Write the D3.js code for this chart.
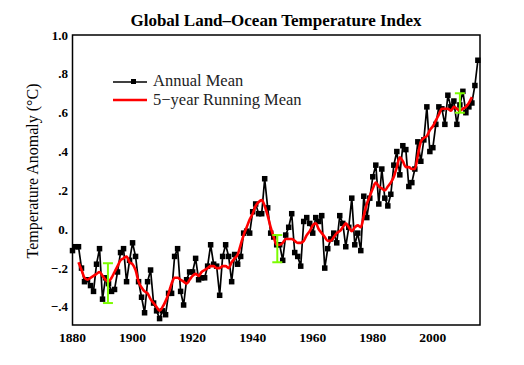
<!DOCTYPE html>
<html>
<head>
<meta charset="utf-8">
<script src="https://cdn.jsdelivr.net/npm/d3@7"></script>
<style>
	body { margin: 0; background: white; }
	text { font-family: "Liberation Serif", "Times New Roman", serif; }
</style>
</head>
<body>
<div id="chart"></div>
<script>
// annual mean, 1880 - 2015
var firstYear = 1880
var annualMean = [
	-0.11, -0.09, -0.09, -0.20, -0.27, -0.26, -0.29, -0.32, -0.18, -0.10,
	-0.36, -0.25, -0.28, -0.32, -0.31, -0.22, -0.12, -0.10, -0.27, -0.16,
	-0.07, -0.14, -0.27, -0.35, -0.43, -0.27, -0.21, -0.38, -0.42, -0.46,
	-0.42, -0.44, -0.33, -0.33, -0.14, -0.10, -0.32, -0.39, -0.26, -0.22,
	-0.22, -0.15, -0.26, -0.25, -0.25, -0.19, -0.08, -0.18, -0.19, -0.34,
	-0.14, -0.08, -0.14, -0.27, -0.13, -0.18, -0.14, -0.02, -0.01, -0.02,
	0.09, 0.13, 0.08, 0.08, 0.26, 0.11, -0.02, -0.04, -0.08, -0.08,
	-0.16, -0.03, 0.01, 0.08, -0.12, -0.14, -0.19, 0.04, 0.06, 0.03,
	-0.02, 0.06, 0.04, 0.07, -0.20, -0.10, -0.05, -0.02, -0.07, 0.07,
	0.03, -0.09, 0.01, 0.16, -0.08, -0.02, -0.11, 0.17, 0.06, 0.16,
	0.27, 0.33, 0.13, 0.31, 0.16, 0.12, 0.18, 0.33, 0.40, 0.28,
	0.43, 0.41, 0.22, 0.24, 0.31, 0.45, 0.35, 0.46, 0.63, 0.40,
	0.42, 0.54, 0.63, 0.62, 0.54, 0.69, 0.63, 0.66, 0.54, 0.64,
	0.71, 0.60, 0.63, 0.65, 0.74, 0.87
]

// 5-year running mean, 1882 - 2013
var runFirstYear = 1882
var runningMean = [
	-0.17, -0.21, -0.25, -0.26, -0.25, -0.24, -0.23, -0.22,
	-0.24, -0.26, -0.27, -0.25, -0.22, -0.19, -0.16, -0.15, -0.14, -0.17,
	-0.18, -0.21, -0.27, -0.30, -0.32, -0.33, -0.36, -0.38, -0.40, -0.42,
	-0.40, -0.37, -0.33, -0.28, -0.25, -0.25, -0.26, -0.27, -0.28, -0.26,
	-0.24, -0.23, -0.24, -0.22, -0.21, -0.20, -0.19, -0.19, -0.20, -0.20,
	-0.19, -0.19, -0.20, -0.17, -0.15, -0.13, -0.08, -0.03, 0.01, 0.05,
	0.08, 0.12, 0.14, 0.15, 0.12, 0.07, 0.01, -0.04, -0.08, -0.08,
	-0.07, -0.05, -0.05, -0.05, -0.06, -0.07, -0.07, -0.06, -0.03, -0.01,
	0.02, 0.03, 0.00, -0.02, -0.04, -0.06, -0.06, -0.04, -0.02, -0.01,
	0.01, 0.03, 0.01, -0.01, 0.01, 0.02, 0.01, 0.07, 0.13, 0.17,
	0.21, 0.24, 0.22, 0.21, 0.20, 0.22, 0.24, 0.27, 0.32, 0.37,
	0.35, 0.32, 0.32, 0.31, 0.31, 0.38, 0.45, 0.47, 0.48, 0.51,
	0.53, 0.56, 0.59, 0.62, 0.62, 0.62, 0.61, 0.63, 0.62, 0.61,
	0.62, 0.63, 0.65, 0.68
]

// green uncertainty bars
var errYears = [1891.8, 1948.2, 2009]
var errLow = [-0.38, -0.17, 0.60]
var errHigh = [-0.175, -0.03, 0.70]

var xTicks = [1880, 1900, 1920, 1940, 1960, 1980, 2000]
var yTicks = [-0.4, -0.2, 0, 0.2, 0.4, 0.6, 0.8, 1.0]
var yTickLabels = ["\u2212.4", "\u2212.2", "0.", ".2", ".4", ".6", ".8", "1.0"]

drawChart()

function drawChart() {
	var annual = annualMean.map(function(v, i) { return { year: firstYear + i, value: v } })
	var running = runningMean.map(function(v, i) { return { year: runFirstYear + i, value: v } })
	var errs = errYears.map(function(y, i) { return { year: y, lo: errLow[i], hi: errHigh[i] } })

	var svg = d3.select("#chart")
		.append("svg")
		.attr("width", 524)
		.attr("height", 365)

	const xScale = d3.scaleLinear()
		.domain([1880, 2015.7])
		.range([72.5, 480]);

	const yScale = d3.scaleLinear()
		.domain([-0.493, 1.0])
		.range([325, 35]);

	// title
	svg.append("text")
		.attr("x", 276)
		.attr("y", 26)
		.style("text-anchor", "middle")
		.style("font-size", "17px")
		.style("font-weight", "bold")
		.text("Global Land\u2013Ocean Temperature Index")

	// y tick labels
	svg.append("g")
		.selectAll("text")
		.data(yTicks)
		.join("text")
		.attr("x", 68)
		.attr("y", d => yScale(d))
		.attr("dy", "0.35em")
		.style("text-anchor", "end")
		.style("font-size", "13px")
		.style("font-weight", "bold")
		.text((d, i) => yTickLabels[i])

	// x tick labels
	svg.append("g")
		.selectAll("text")
		.data(xTicks)
		.join("text")
		.attr("x", d => xScale(d))
		.attr("y", 342)
		.style("text-anchor", "middle")
		.style("font-size", "13.5px")
		.style("font-weight", "bold")
		.text(d => d)

	// y axis name
	svg.append("text")
		.attr("transform", "translate(38," + 171 + ") rotate(-90)")
		.style("text-anchor", "middle")
		.style("font-size", "16px")
		.text("Temperature Anomaly (\u00B0C)")

	// annual mean line + squares
	const line = d3.line()
		.x(d => xScale(d.year))
		.y(d => yScale(d.value));

	svg.append("path")
		.datum(annual)
		.attr("d", line)
		.style("fill", "none")
		.style("stroke", "black")
		.style("stroke-width", "1.7px")

	svg.selectAll(".pt")
		.data(annual)
		.join("rect")
		.attr("class", "pt")
		.attr("x", d => xScale(d.year) - 2.75)
		.attr("y", d => yScale(d.value) - 2.75)
		.attr("width", 5.5)
		.attr("height", 5.5)
		.style("fill", "black")

	// running mean
	svg.append("path")
		.datum(running)
		.attr("d", line.curve(d3.curveMonotoneX))
		.style("fill", "none")
		.style("stroke", "#ff0000")
		.style("stroke-width", "2.6px")

	// uncertainty bars
	var eg = svg.append("g")
		.style("stroke", "#7cfc00")
		.style("stroke-width", "2px")
	errs.forEach(function(e) {
		var x = xScale(e.year)
		eg.append("line").attr("x1", x).attr("x2", x).attr("y1", yScale(e.lo)).attr("y2", yScale(e.hi))
		eg.append("line").attr("x1", x - 5).attr("x2", x + 5).attr("y1", yScale(e.lo)).attr("y2", yScale(e.lo))
		eg.append("line").attr("x1", x - 5).attr("x2", x + 5).attr("y1", yScale(e.hi)).attr("y2", yScale(e.hi))
	})

	// frame
	svg.append("rect")
		.attr("x", xScale(1880))
		.attr("y", yScale(1.0))
		.attr("width", xScale(2015.7) - xScale(1880))
		.attr("height", yScale(-0.493) - yScale(1.0))
		.style("fill", "none")
		.style("stroke", "black")
		.style("stroke-width", "1.5px")

	// legend
	var lg = svg.append("g")
	lg.append("line")
		.attr("x1", 113).attr("x2", 147).attr("y1", 82).attr("y2", 82)
		.style("stroke", "black").style("stroke-width", "1.4px")
	lg.append("rect")
		.attr("x", 131).attr("y", 79).attr("width", 5).attr("height", 5)
		.style("fill", "black")
	lg.append("text")
		.attr("x", 153).attr("y", 86)
		.style("font-size", "16.5px")
		.style("fill", "#222")
		.text("Annual Mean")
	lg.append("line")
		.attr("x1", 113).attr("x2", 147).attr("y1", 100).attr("y2", 100)
		.style("stroke", "#ff0000").style("stroke-width", "2.4px")
	lg.append("text")
		.attr("x", 153).attr("y", 105)
		.style("font-size", "16.5px")
		.style("fill", "#222")
		.text("5\u2212year Running Mean")
}
</script>
</body>
</html>
